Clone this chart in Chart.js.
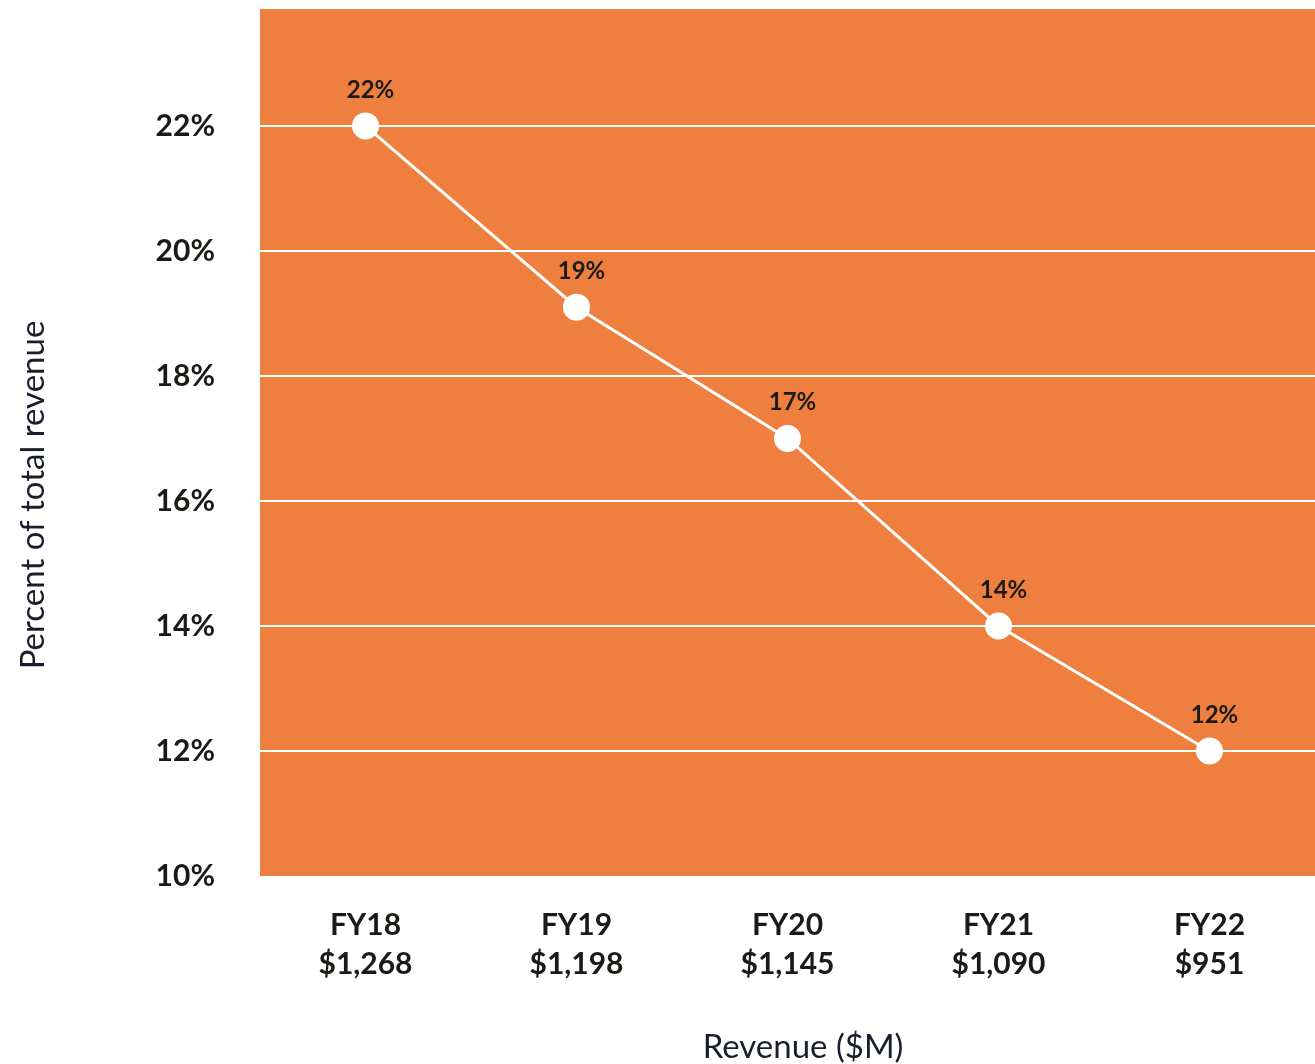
<!DOCTYPE html>
<html>
<head>
<meta charset="utf-8">
<script src="https://cdn.jsdelivr.net/npm/chart.js@4.4.0/dist/chart.umd.min.js"></script>
<style>
  html, body { margin: 0; padding: 0; background: #fff; }
  #wrap { width: 1315px; height: 1064px; }
</style>
</head>
<body>
<div id="wrap"><canvas id="revChart"></canvas></div>
<script>
const fiscalYears = ['FY18', 'FY19', 'FY20', 'FY21', 'FY22'];
const revenueLabels = ['$1,268', '$1,198', '$1,145', '$1,090', '$951'];
const percentValues = [22, 19.1, 17, 14, 12];
const yTicks = [10, 12, 14, 16, 18, 20, 22];

const FONT = 'Lato, "Open Sans", sans-serif';
const ORANGE = '#ef7f3e';
const DARK = '#1b1a17';

// orange plot background
const plotBg = {
	id: 'plotBg',
	beforeDraw(chart) {
		const {ctx, chartArea: a} = chart;
		ctx.save();
		ctx.fillStyle = ORANGE;
		ctx.fillRect(a.left, a.top, a.right - a.left, a.bottom - a.top);
		ctx.restore();
	}
};

// value labels above points + axis titles
const labelsAndTitles = {
	id: 'labelsAndTitles',
	afterDatasetsDraw(chart) {
		const ctx = chart.ctx;
		const meta = chart.getDatasetMeta(0);
		ctx.save();
		ctx.fillStyle = DARK;
		ctx.font = 'bold 24px ' + FONT;
		ctx.textAlign = 'center';
		ctx.textBaseline = 'middle';
		meta.data.forEach((pt, i) => {
			ctx.fillText(Math.round(percentValues[i]) + '%', pt.x + 5, pt.y - 36);
		});
		ctx.fillStyle = '#1a1d2b';
		ctx.font = '33px ' + FONT;
		ctx.fillText('Revenue ($M)', 803, 1047);
		ctx.translate(33, 495);
		ctx.rotate(-Math.PI / 2);
		ctx.fillText('Percent of total revenue', 0, 0);
		ctx.restore();
	}
};

const ctx = document.getElementById('revChart').getContext('2d');
const revChart = new Chart(ctx, {
	type: 'line',
	data: {
		labels: fiscalYears.map((fy, i) => [fy, revenueLabels[i]]),
		datasets: [{
			data: percentValues,
			borderColor: '#ffffff',
			borderWidth: 3,
			pointRadius: 13.5,
			pointHoverRadius: 13.5,
			pointBackgroundColor: '#ffffff',
			pointBorderWidth: 0,
			tension: 0,
			fill: false,
			clip: false
		}]
	},
	options: {
		responsive: true,
		maintainAspectRatio: false,
		animation: false,
		layout: { autoPadding: false, padding: { top: 9, right: 0, left: 0, bottom: 0 } },
		plugins: {
			legend: { display: false },
			tooltip: { enabled: false }
		},
		scales: {
			x: {
				offset: true,
				border: { display: false },
				grid: { display: false, drawTicks: false },
				ticks: {
					color: DARK,
					padding: 30,
					maxRotation: 0,
					font: { family: FONT, size: 30, weight: 'bold', lineHeight: 1.3 }
				},
				afterFit(scale) {
					scale.height = 188;
					scale.paddingLeft = 0;
					scale.paddingRight = 0;
				}
			},
			y: {
				min: 10,
				max: 23.87,
				border: { display: false },
				grid: {
					color: (c) => (c.tick && c.tick.value > 10 && c.tick.value < 23) ? '#ffffff' : 'rgba(0,0,0,0)',
					lineWidth: 2,
					drawTicks: false
				},
				ticks: {
					color: DARK,
					padding: 45,
					font: { family: FONT, size: 30, weight: 'bold' },
					callback: (v) => v + '%'
				},
				afterBuildTicks(scale) {
					scale.ticks = yTicks.map(v => ({ value: v }));
				},
				afterFit(scale) {
					scale.width = 260;
					scale.paddingTop = 0;
					scale.paddingBottom = 0;
				}
			}
		}
	},
	plugins: [plotBg, labelsAndTitles]
});
</script>
</body>
</html>
